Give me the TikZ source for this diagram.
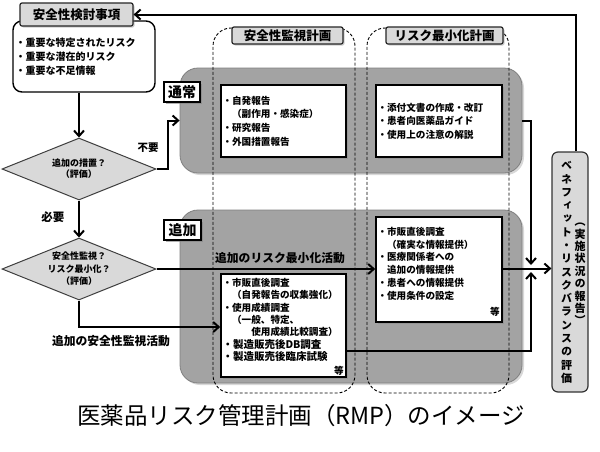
\documentclass[tikz,border=0pt]{standalone}
\usepackage{fontspec}
\setmainfont{Noto Sans CJK JP}
\newfontfamily\vjp{Noto Sans CJK JP}[RawFeature=+vert]
\usetikzlibrary{shapes.geometric,arrows.meta,shadows,calc}
\definecolor{lgray}{HTML}{D9D9D9}
\definecolor{mgray}{HTML}{A3A3A3}
\newcommand{\fz}[2]{\fontsize{#1}{#2}\selectfont}
\tikzset{
  graybox/.style={draw=black!50, line width=0.8pt, fill=mgray, rounded corners=18pt,
    minimum width=#1, drop shadow={shadow xshift=2pt,shadow yshift=-2pt,opacity=0.3}},
  column/.style={draw, line width=0.9pt, dash pattern=on 3pt off 2pt, rounded corners=18pt, inner sep=0pt},
  titlebox/.style={draw=black!85, line width=1.2pt, fill=lgray, rounded corners=2pt, inner sep=0pt,
    font=\bfseries\fz{12.5}{14}, drop shadow={shadow xshift=1.5pt,shadow yshift=-1.5pt,opacity=0.4}},
  whitebox/.style={draw, line width=1.6pt, fill=white, align=left, inner sep=0pt,
    font=\bfseries\fz{9.6}{13.7}, drop shadow={shadow xshift=1.5pt,shadow yshift=-1.5pt,opacity=0.4}},
  tagbox/.style={draw, line width=2.2pt, fill=white, inner sep=0pt, minimum width=36pt, minimum height=20pt,
    font=\bfseries\fz{14}{16}, drop shadow={shadow xshift=2pt,shadow yshift=-2pt,opacity=0.6}},
  decision/.style={diamond, draw=black!75, line width=1pt, fill=lgray, inner sep=0pt, aspect=2.5,
    minimum width=154pt, minimum height=62pt, align=center},
  conn/.style={line width=2pt, -{Straight Barb[length=5.5pt,width=10pt,line width=2pt]}},
  lbl/.style={font=\bfseries\fz{11.8}{14}, inner sep=0pt},
}
\begin{document}
\begin{tikzpicture}[x=1pt,y=-1pt]
\useasboundingbox (0,0) rectangle (600,451);
\fill[white] (0,0) rectangle (600,451);

% caption
\node[font=\fz{23.5}{26}, inner sep=0pt] (caption) at (301,416) {医薬品リスク管理計画（RMP）のイメージ};

% left column
\node[draw, line width=1.4pt, fill=white, rounded corners=9pt, minimum width=142pt, minimum height=71pt, inner sep=0pt] (secbox) at (84,56.5) {};
\node[anchor=west, align=left, inner sep=0pt, font=\bfseries\fz{10}{14}] (sectext) at (15.5,57) {・重要な特定されたリスク\\・重要な潜在的リスク\\・重要な不足情報};
\node[titlebox, minimum width=113pt, minimum height=23pt] (title1) at (76.5,14.5) {安全性検討事項};

\node[decision, font=\bfseries\fz{9}{11}] (d1) at (79,169) {追加の措置？\\（評価）};
\node[decision, font=\bfseries\fz{9}{12.5}] (d2) at (79,269) {安全性監視？\\リスク最小化？\\（評価）};

% gray boxes
\node[graybox=342pt, minimum height=105pt] (normbox) at (351,120.5) {};
\node[graybox=342pt, minimum height=173pt] (addbox) at (351,296.5) {};

% columns
\node[column, minimum width=142pt, minimum height=365pt] (col1) at (284,210.5) {};
\node[column, minimum width=142pt, minimum height=365pt] (col2) at (438,210.5) {};
\node[titlebox, minimum width=111pt, minimum height=17pt] (t2) at (287.5,35.5) {安全性監視計画};
\node[titlebox, minimum width=117pt, minimum height=17pt] (t3) at (444.5,35.5) {リスク最小化計画};

% white boxes
\node[whitebox, minimum width=125pt, minimum height=72pt, text width=122pt] (ns) at (283.5,121)
  {・自発報告\\\hspace*{1em}（副作用・感染症）\\・研究報告\\・外国措置報告};
\node[whitebox, minimum width=126pt, minimum height=72pt, text width=123pt] (nr) at (439,121)
  {・添付文書の作成・改訂\\・患者向医薬品ガイド\\・使用上の注意の解説};
\node[whitebox, minimum width=125pt, minimum height=103pt, text width=122pt, font=\bfseries\fz{9.6}{12.4}] (as) at (283.5,325.5)
  {・市販直後調査\\\hspace*{1em}（自発報告の収集強化）\\・使用成績調査\\\hspace*{1em}（一般、特定、\\\hspace*{3em}使用成績比較調査）\\{\fz{10.5}{12.4}・製造販売後DB調査}\\{\fz{10.5}{12.4}・製造販売後臨床試験}\\\mbox{}};
\node[font=\bfseries\fz{9.6}{12}, inner sep=0pt, anchor=south east] (asetc) at ([xshift=-3pt,yshift=2pt]as.south east) {等};
\node[whitebox, minimum width=126pt, minimum height=105pt, text width=123pt, font=\bfseries\fz{9.6}{12.7}] (ar) at (439,269.5)
  {・市販直後調査\\\hspace*{1em}（確実な情報提供）\\・医療関係者への\\\hspace*{1em}追加の情報提供\\・患者への情報提供\\・使用条件の設定\\\mbox{}};
\node[font=\bfseries\fz{9.6}{12}, inner sep=0pt, anchor=south east] (aretc) at ([xshift=-3pt,yshift=6pt]ar.south east) {等};

% tags
\node[tagbox] (tnorm) at (182,92) {通常};
\node[tagbox, minimum width=37pt] (tadd) at (182.5,230) {追加};

% benefit box
\node[draw=black!80, line width=1.2pt, fill=lgray, rounded corners=6pt, minimum width=36pt, minimum height=240pt, inner sep=0pt] (benefit) at (570,272) {};
\node[align=center, inner sep=0pt, font=\vjp\bfseries\fz{11}{13.3}] (bvl) at (566.5,272.5)
  {ベ\\ネ\\フ\\ィ\\ッ\\ト\\・\\リ\\ス\\ク\\バ\\ラ\\ン\\ス\\の\\評\\価};
\node[align=center, inner sep=0pt, font=\vjp\bfseries\fz{11}{12.4}] (bvr) at (580,274)
  {︵\\実\\施\\状\\況\\の\\報\\告\\︶};

% connectors
\coordinate (k1) at (168,0);
\coordinate (j) at (531,268.5);
\draw[conn] (secbox.south -| d1.north) -- (d1.north);
\draw[conn] (d1.south) -- (d2.north);
\node[lbl, font=\bfseries\fz{11.5}{14}] (need) at (53,217) {必要};
\draw[conn] (d1.east) -- (d1.east -| k1) -- (k1 |- normbox.west) -- (normbox.west);
\node[lbl, font=\bfseries\fz{10.5}{12}] (noneed) at (148,148) {不要};
\draw[conn] (d2.east) -- (d2.east -| ar.west);
\node[lbl] (addrisk) at (280,258) {追加のリスク最小化活動};
\draw[conn] (d2.south) |- (as.west |- 0,327);
\node[lbl] (addsafe) at (111,341) {追加の安全性監視活動};
\draw[conn, shorten >=3.5pt] (normbox.east |- nr.east) -| (j);
\draw[conn, shorten >=3.5pt] ([yshift=-25pt]as.east) -| (j);
\draw[conn] (ar.east |- j) -- (j -| benefit.west);
\draw[conn] ([xshift=6pt]benefit.north) |- (title1.east);
\end{tikzpicture}
\end{document}
